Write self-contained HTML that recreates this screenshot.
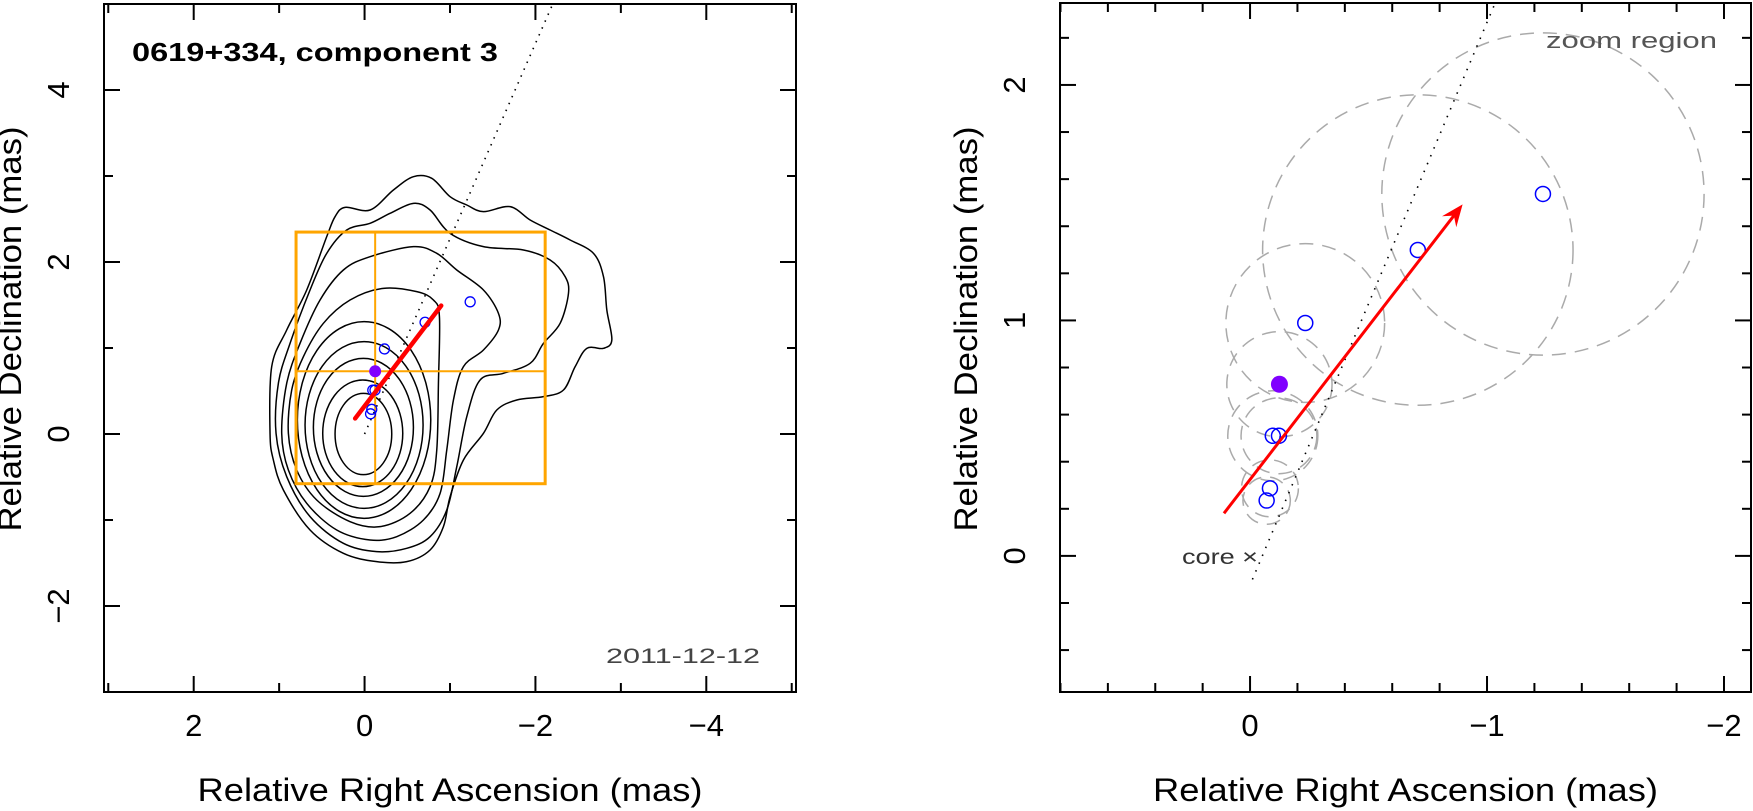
<!DOCTYPE html>
<html><head><meta charset="utf-8"><style>
html,body{margin:0;padding:0;background:#fff;}
svg{display:block;font-family:"Liberation Sans",sans-serif;}
</style></head><body>
<svg id="chart" width="1753" height="811" viewBox="0 0 1753 811" xmlns="http://www.w3.org/2000/svg"></svg>
<script>
// ---- data (mas) ----
const compRA  = [-0.070, -0.084, -0.096, -0.122, -0.233, -0.708, -1.236];
const compDec = [ 0.235,  0.287,  0.510,  0.510,  0.989,  1.299,  1.537];
const compSize= [ 0.10,   0.12,   0.19,   0.16,   0.335,  0.655,  0.68];
const selRA = [-0.124];
const selDec = [0.729];
const selSize = [0.222];
const arrowRA = [0.110, -0.897];
const arrowDec = [0.181, 1.493];
const jetSlope = [-2.27];
const leftXTicks = [2, 0, -2, -4];
const leftYTicks = [4, 2, 0, -2];
const rightXTicks = [0, -1, -2];
const rightYTicks = [2, 1, 0];
// contours digitised on a grid (g units): ra=(114.5-g/3)/85.4, dec=(284-g/3)/86
const contourEllipses = [[340,852,85,122],[338,850,120,160],[340,832,150,207],[342,825,177,250],[342,810,200,295]];
const contour6 = [[115,850],[125,720],[160,620],[220,520],[300,450],[400,415],[500,425],[550,450],[568,500],[565,700],[560,900],[540,1010],[480,1090],[390,1130],[300,1115],[200,1050],[140,960]];
const contour7 = [[95,850],[110,700],[150,580],[210,450],[280,360],[360,320],[490,290],[560,310],[620,360],[700,420],[745,490],[745,540],[700,600],[640,650],[610,750],[590,900],[570,1030],[520,1110],[440,1160],[360,1170],[260,1140],[170,1060],[115,960]];
const contour8 = [[78,850],[85,700],[120,580],[180,420],[230,310],[290,240],[360,220],[420,190],[490,160],[540,180],[600,250],[700,290],[820,300],[900,330],[945,380],[955,430],[930,520],[880,580],[840,640],[760,670],[690,690],[650,800],[620,950],[590,1080],[540,1160],[470,1195],[380,1205],[280,1180],[180,1100],[110,980]];
const contour9 = [[60,850],[65,650],[110,540],[170,420],[230,260],[255,200],[285,172],[360,180],[430,120],[490,80],[545,85],[600,140],[650,165],[700,185],[780,170],[840,210],[900,240],[960,270],[1030,310],[1060,380],[1070,480],[1085,570],[1060,595],[1010,595],[975,650],[940,720],[880,740],[800,750],[740,780],[700,850],[640,930],[600,1040],[580,1130],[540,1200],[470,1235],[380,1235],[280,1210],[180,1140],[100,1020],[70,930]];

const NS="http://www.w3.org/2000/svg";
const svg=document.getElementById('chart');
function mk(tag,attrs,parent){const e=document.createElementNS(NS,tag);for(const k in attrs)e.setAttribute(k,attrs[k]);(parent||svg).appendChild(e);return e;}
function gRA(g){return (114.5-g/3)/85.4;}
function gDec(g){return (284-g/3)/86;}

const L={x0:104,x1:796,y0:4,y1:692,ra0:3.05,ra1:-5.05,d0:5,d1:-3};
const R={x0:1060,x1:1751,y0:3,y1:692,ra0:0.802,ra1:-2.114,d0:2.348,d1:-0.578};
function X(p,v){return p.x0+(v-p.ra0)/(p.ra1-p.ra0)*(p.x1-p.x0);}
function Y(p,v){return p.y0+(v-p.d0)/(p.d1-p.d0)*(p.y1-p.y0);}
function sx(p){return (p.x1-p.x0)/Math.abs(p.ra1-p.ra0);}

function axes(p,xt,yt,minorStep,name,lblX,titleX){
  const g=mk('g',{});
  
  
  const fr=mk('rect',{x:p.x0,y:p.y0,width:p.x1-p.x0,height:p.y1-p.y0,fill:'none',stroke:'#000','stroke-width':2},g);
  
  
  const lo=Math.min(p.ra0,p.ra1),hi=Math.max(p.ra0,p.ra1);
  for(let v=Math.ceil(lo/minorStep-1e-6)*minorStep;v<=hi+1e-9;v+=minorStep){
    const maj=xt.some(t=>Math.abs(t-v)<1e-6);const len=maj?16:9;const x=X(p,v);
    mk('line',{x1:x,y1:p.y1,x2:x,y2:p.y1-len,stroke:'#000','stroke-width':2},g);
    mk('line',{x1:x,y1:p.y0,x2:x,y2:p.y0+len,stroke:'#000','stroke-width':2},g);
  }
  const dlo=Math.min(p.d0,p.d1),dhi=Math.max(p.d0,p.d1);
  for(let v=Math.ceil(dlo/minorStep-1e-6)*minorStep;v<=dhi+1e-9;v+=minorStep){
    const maj=yt.some(t=>Math.abs(t-v)<1e-6);const len=maj?16:9;const y=Y(p,v);
    mk('line',{x1:p.x0,y1:y,x2:p.x0+len,y2:y,stroke:'#000','stroke-width':2},g);
    mk('line',{x1:p.x1,y1:y,x2:p.x1-len,y2:y,stroke:'#000','stroke-width':2},g);
  }
  xt.forEach(v=>{
    const t=mk('text',{x:X(p,v),y:736,'text-anchor':'middle','font-size':31,fill:'#000'},g);
    
    
    t.textContent=(v<0?'\u2212'+(-v):String(v));
  });
  yt.forEach(v=>{
    const y=Y(p,v);
    const t=mk('text',{x:0,y:0,'text-anchor':'middle','font-size':31,fill:'#000',transform:`translate(${lblX+11},${y}) rotate(-90)`},g);
    
    
    t.textContent=(v<0?'\u2212'+(-v):String(v));
  });
  const xtitle=mk('text',{x:(p.x0+p.x1)/2,y:801,'text-anchor':'middle','font-size':32,textLength:505,lengthAdjust:'spacingAndGlyphs',fill:'#000'},g);
  
  
  xtitle.textContent='Relative Right Ascension (mas)';
  const ytitle=mk('text',{x:0,y:0,'text-anchor':'middle','font-size':32,textLength:405,lengthAdjust:'spacingAndGlyphs',fill:'#000',transform:`translate(${titleX+12},329) rotate(-90)`},g);
  
  
  ytitle.textContent='Relative Declination (mas)';
}

const defs=mk('defs',{});
const c1=mk('clipPath',{id:'clipL'},defs);mk('rect',{x:L.x0,y:L.y0,width:L.x1-L.x0,height:L.y1-L.y0},c1);
const c2=mk('clipPath',{id:'clipR'},defs);mk('rect',{x:R.x0,y:R.y0,width:R.x1-R.x0,height:R.y1-R.y0},c2);

// ---------- LEFT PANEL ----------
const gl=mk('g',{'clip-path':'url(#clipL)'});


contourEllipses.forEach(e=>{
  const el=mk('ellipse',{cx:X(L,gRA(e[0])),cy:Y(L,gDec(e[1])),rx:e[2]/3/85.4*sx(L),ry:e[3]/3/86*(L.y1-L.y0)/8,fill:'none',stroke:'#000','stroke-width':1.5},gl);
  
  
});
function smoothPath(pts){
  const P=pts.map(q=>[X(L,gRA(q[0])),Y(L,gDec(q[1]))]);const n=P.length;
  let d=`M${P[0][0]},${P[0][1]}`;
  for(let i=0;i<n;i++){const p0=P[(i-1+n)%n],p1=P[i],p2=P[(i+1)%n],p3=P[(i+2)%n];
    d+=` C${p1[0]+(p2[0]-p0[0])/6},${p1[1]+(p2[1]-p0[1])/6} ${p2[0]-(p3[0]-p1[0])/6},${p2[1]-(p3[1]-p1[1])/6} ${p2[0]},${p2[1]}`;}
  return d+'Z';
}
[contour6,contour7,contour8,contour9].forEach(c=>{
  const p=mk('path',{d:smoothPath(c),fill:'none',stroke:'#000','stroke-width':1.5},gl);
  
  
});
const zb=mk('rect',{x:X(L,R.ra0),y:Y(L,R.d0),width:X(L,R.ra1)-X(L,R.ra0),height:Y(L,R.d1)-Y(L,R.d0),fill:'none',stroke:'#FFA500','stroke-width':3},gl);


const ch1=mk('line',{x1:X(L,selRA[0]),y1:Y(L,R.d0),x2:X(L,selRA[0]),y2:Y(L,R.d1),stroke:'#FFA500','stroke-width':2},gl);


const ch2=mk('line',{x1:X(L,R.ra0),y1:Y(L,selDec[0]),x2:X(L,R.ra1),y2:Y(L,selDec[0]),stroke:'#FFA500','stroke-width':2},gl);


const jl=mk('line',{x1:X(L,0),y1:Y(L,0),x2:X(L,L.d0/jetSlope[0]),y2:Y(L,L.d0),stroke:'#000','stroke-width':1.6,'stroke-dasharray':'1.5 6'},gl);


compRA.forEach((ra,i)=>{
  const c=mk('circle',{cx:X(L,ra),cy:Y(L,compDec[i]),r:5,fill:'none',stroke:'#0000ff','stroke-width':1.3},gl);
  
  
});
const sl=mk('circle',{cx:X(L,selRA[0]),cy:Y(L,selDec[0]),r:6,fill:'#8000ff'},gl);


const al=mk('line',{x1:X(L,arrowRA[0]),y1:Y(L,arrowDec[0]),x2:X(L,arrowRA[1]),y2:Y(L,arrowDec[1]),stroke:'#ff0000','stroke-width':4.5,'stroke-linecap':'round'},gl);



axes(L,leftXTicks,leftYTicks,1,'left',58,9);
const tt=mk('text',{x:132,y:61,'font-size':26,'font-weight':'bold',textLength:366,lengthAdjust:'spacingAndGlyphs',fill:'#000'});


tt.textContent='0619+334, component 3';
const dt=mk('text',{x:606,y:663,'font-size':21,textLength:154,lengthAdjust:'spacingAndGlyphs',fill:'#444'});


dt.textContent='2011-12-12';

// ---------- RIGHT PANEL ----------
const gr=mk('g',{'clip-path':'url(#clipR)'});


compRA.forEach((ra,i)=>{
  const c=mk('circle',{cx:X(R,ra),cy:Y(R,compDec[i]),r:compSize[i]*sx(R),fill:'none',stroke:'#aaa','stroke-width':1.5,'stroke-dasharray':'14 9'},gr);
  
  
});
const sc=mk('circle',{cx:X(R,selRA[0]),cy:Y(R,selDec[0]),r:selSize[0]*sx(R),fill:'none',stroke:'#aaa','stroke-width':1.5,'stroke-dasharray':'14 9'},gr);


const jr=mk('line',{x1:X(R,-0.01),y1:Y(R,-0.1),x2:X(R,R.d0/jetSlope[0]),y2:Y(R,R.d0),stroke:'#000','stroke-width':1.6,'stroke-dasharray':'1.5 7'},gr);


compRA.forEach((ra,i)=>{
  const c=mk('circle',{cx:X(R,ra),cy:Y(R,compDec[i]),r:7.5,fill:'none',stroke:'#0000ff','stroke-width':1.5},gr);
  
  
});
const sr=mk('circle',{cx:X(R,selRA[0]),cy:Y(R,selDec[0]),r:8.5,fill:'#8000ff'},gr);


(function(){
  const x1=X(R,arrowRA[0]),y1=Y(R,arrowDec[0]),x2=X(R,arrowRA[1]),y2=Y(R,arrowDec[1]);
  const a=Math.atan2(y2-y1,x2-x1),hl=22,hw=9;
  const bx=x2-hl*Math.cos(a),by=y2-hl*Math.sin(a);
  const ln=mk('line',{x1:x1,y1:y1,x2:x2-8*Math.cos(a),y2:y2-8*Math.sin(a),stroke:'#ff0000','stroke-width':3},gr);
  
  
  const nx=-Math.sin(a),ny=Math.cos(a);
  const mx=x2-hl*0.65*Math.cos(a),my=y2-hl*0.65*Math.sin(a);
  const hd=mk('polygon',{points:`${x2},${y2} ${bx+nx*hw},${by+ny*hw} ${mx},${my} ${bx-nx*hw},${by-ny*hw}`,fill:'#ff0000'},gr);
  
  
})();
axes(R,rightXTicks,rightYTicks,0.2,'right',1014,965);
const zr=mk('text',{x:1546,y:48,'font-size':22,textLength:171,lengthAdjust:'spacingAndGlyphs',fill:'#555'});


zr.textContent='zoom region';
const cr=mk('text',{x:1182,y:564,'font-size':21,textLength:76,lengthAdjust:'spacingAndGlyphs',fill:'#333'});


cr.textContent='core \u00d7';
</script>
</body></html>
